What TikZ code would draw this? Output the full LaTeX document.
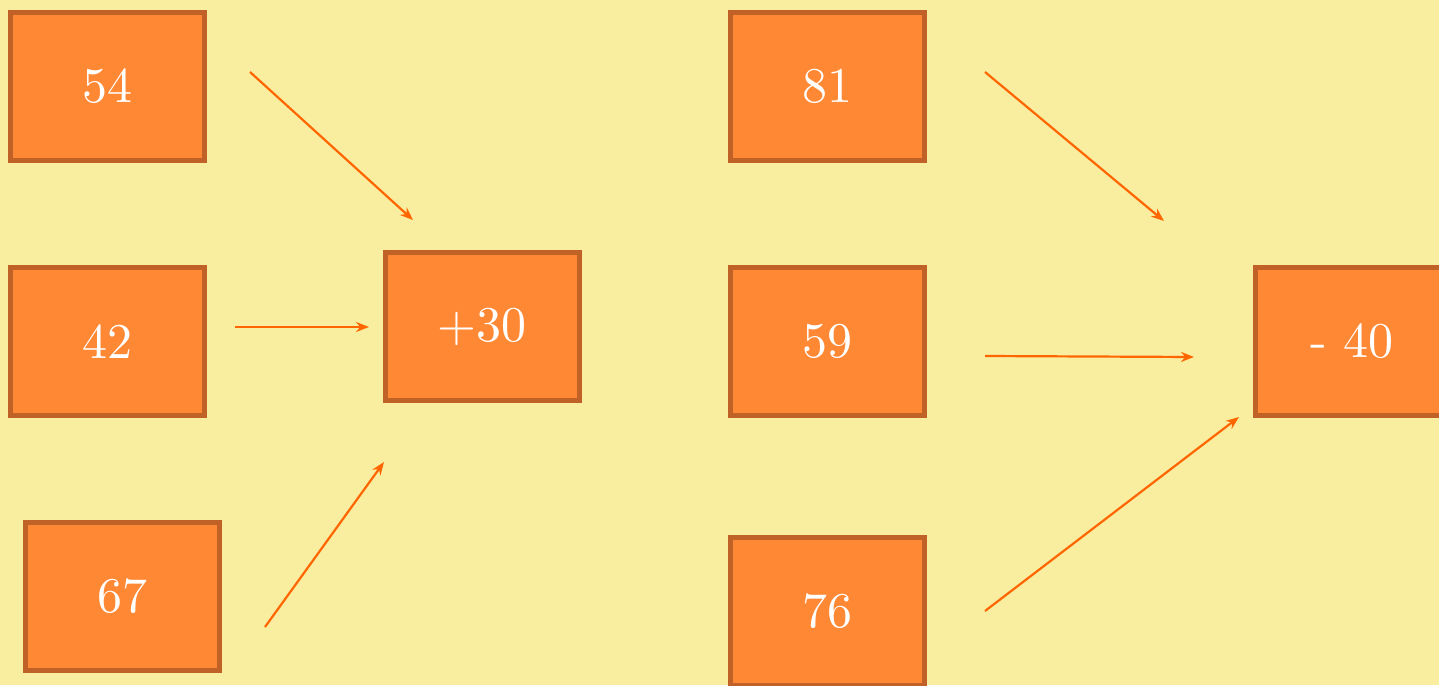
\documentclass[tikz,border=0pt]{standalone}
\usepackage{fontspec}
\setmainfont{lmroman10-regular}[Extension=.otf]
\usetikzlibrary{arrows.meta}
\definecolor{bgyellow}{RGB}{249,237,160}
\definecolor{boxfill}{RGB}{255,136,52}
\definecolor{boxedge}{RGB}{192,98,40}
\definecolor{arrowcol}{RGB}{255,102,0}
\begin{document}
\begin{tikzpicture}[x=1pt,y=-1pt,
  numbox/.style={draw=boxedge, fill=boxfill, line width=5pt, minimum width=194pt, minimum height=148pt,
    inner sep=0pt, text=white, font=\fontsize{50}{60}\selectfont},
  conn/.style={draw=arrowcol, line width=2.2pt, -{Stealth[length=13pt,width=10pt]}}]
\fill[bgyellow] (0,0) rectangle (1439,685);
\useasboundingbox (0,0) rectangle (1439,685);
\node[numbox] (n54) at (107,86.5) {54};
\node[numbox] (n42) at (107,341.5) {42};
\node[numbox] (n67) at (122,596.5) {67};
\node[numbox] (p30) at (482,326.5) {+30};
\node[numbox] (n81) at (827,86.5) {81};
\node[numbox] (n59) at (827,341.5) {59};
\node[numbox] (n76) at (827,611.5) {76};
\node[numbox] (m40) at (1352,341.5) {- 40};
\coordinate (a1s) at (250,72);  \coordinate (a1e) at (413,220);
\coordinate (a2s) at (235,327); \coordinate (a2e) at (369,327);
\coordinate (a3s) at (265,627); \coordinate (a3e) at (384,462);
\coordinate (b1s) at (985,72);  \coordinate (b1e) at (1164,221);
\coordinate (b2s) at (985,356); \coordinate (b2e) at (1194,357);
\coordinate (b3s) at (985,611); \coordinate (b3e) at (1239,417);
\draw[conn] (a1s) -- (a1e);
\draw[conn] (a2s) -- (a2e);
\draw[conn] (a3s) -- (a3e);
\draw[conn] (b1s) -- (b1e);
\draw[conn] (b2s) -- (b2e);
\draw[conn] (b3s) -- (b3e);
\end{tikzpicture}
\end{document}
